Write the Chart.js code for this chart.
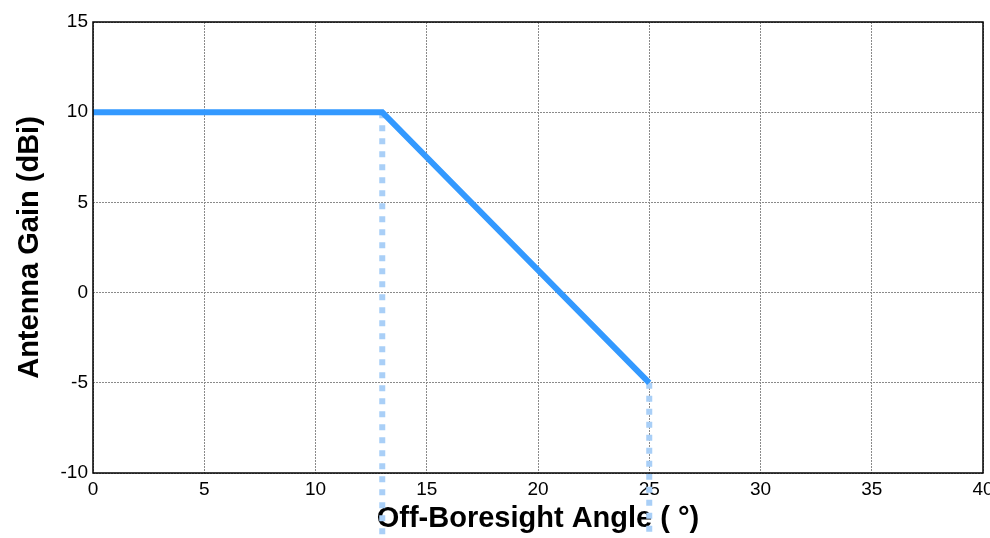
<!DOCTYPE html>
<html>
<head>
<meta charset="utf-8">
<script src="https://cdn.jsdelivr.net/npm/chart.js@4/dist/chart.umd.min.js"></script>
<style>
  html, body { margin: 0; padding: 0; background: #fff; }
  #wrap { width: 990px; height: 538px; }
</style>
</head>
<body>
<div id="wrap"><canvas id="c"></canvas></div>
<script>
// gain pattern, angle in degrees, gain in dBi
const angles = [0, 13, 25];
const gains = [10, 10, -5];
// dotted markers going down from the corners
const markerAngles = [13, 25];
const markerTops = [10, -5];
const markerBottom = -14;

const xTicks = [0, 5, 10, 15, 20, 25, 30, 35, 40];
const yTicks = [-10, -5, 0, 5, 10, 15];

const lineData = angles.map((a, i) => ({ x: a, y: gains[i] }));
const markerSets = markerAngles.map((a, i) => ({
  data: [{ x: a, y: markerTops[i] }, { x: a, y: markerBottom }],
  borderColor: '#a9cff7',
  borderWidth: 6,
  borderDash: [6, 7],
  pointRadius: 0,
  clip: false,
  order: 2
}));

// box round the plot area like the matlab axes
const boxPlugin = {
  id: 'box',
  afterDraw(chart) {
    const { ctx, chartArea: a } = chart;
    ctx.save();
    ctx.strokeStyle = '#000';
    ctx.lineWidth = 1.5;
    ctx.strokeRect(a.left, a.top, a.right - a.left, a.bottom - a.top);
    ctx.restore();
  }
};

const tickFont = { family: '"Liberation Sans", Arial, sans-serif', size: 19 };
const titleFont = { family: '"Liberation Sans", Arial, sans-serif', size: 29, weight: 'bold' };

new Chart(document.getElementById('c'), {
  type: 'line',
  data: {
    datasets: [
      {
        data: lineData,
        borderColor: '#3399ff',
        borderWidth: 6,
        pointRadius: 0,
        order: 1
      },
      ...markerSets
    ]
  },
  options: {
    responsive: true,
    maintainAspectRatio: false,
    animation: false,
    layout: { padding: { top: 22, right: 7, left: 0, bottom: 0 } },
    plugins: { legend: { display: false }, tooltip: { enabled: false } },
    scales: {
      x: {
        type: 'linear',
        min: 0, max: 40,
        afterBuildTicks: s => { s.ticks = xTicks.map(v => ({ value: v })); },
        afterFit: s => { s.height = 65; s.paddingLeft = 0; s.paddingRight = 0; },
        grid: { color: '#8a8a8a', drawTicks: false },
        border: { display: false, dash: [2, 1] },
        ticks: { color: '#000', font: tickFont, padding: 5, maxRotation: 0 },
        title: { display: true, text: 'Off-Boresight Angle ( °)', color: '#000', font: titleFont, padding: { bottom: 2 } }
      },
      y: {
        min: -10, max: 15,
        afterBuildTicks: s => { s.ticks = yTicks.map(v => ({ value: v })); },
        afterFit: s => { s.width = 93; },
        grid: { color: '#8a8a8a', drawTicks: false },
        border: { display: false, dash: [2, 1] },
        ticks: { color: '#000', font: tickFont, padding: 5 },
        title: { display: true, text: 'Antenna Gain (dBi)', color: '#000', font: titleFont, padding: { top: 13 } }
      }
    }
  },
  plugins: [boxPlugin]
});
</script>
</body>
</html>
